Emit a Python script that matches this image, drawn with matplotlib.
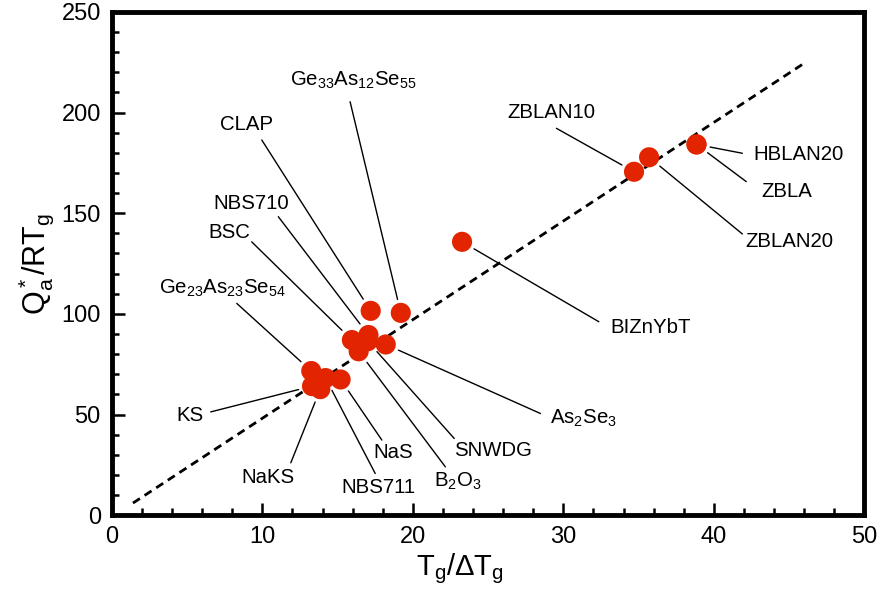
import matplotlib
matplotlib.use("Agg")
import matplotlib.pyplot as plt
from matplotlib.ticker import MultipleLocator

plt.rcParams['font.family'] = ['Liberation Sans', 'DejaVu Sans']
plt.rcParams['mathtext.fontset'] = 'custom'
plt.rcParams['mathtext.rm'] = 'Liberation Sans'
plt.rcParams['mathtext.it'] = 'Liberation Sans:italic'

# glasses: name, Tg/dTg, Qa*/RTg
names = ['Ge$_{33}$As$_{12}$Se$_{55}$', 'CLAP', 'NBS710', 'BSC',
         'Ge$_{23}$As$_{23}$Se$_{54}$', 'KS', 'NaKS', 'NBS711', 'NaS',
         'B$_2$O$_3$', 'SNWDG', 'As$_2$Se$_3$', 'BIZnYbT',
         'ZBLAN10', 'ZBLAN20', 'HBLAN20', 'ZBLA']
tg_ratio = [19.2, 17.2, 17.05, 15.95, 13.25, 13.3, 13.85, 14.2, 15.2,
            16.4, 17.0, 18.2, 23.27, 34.7, 35.7, 38.85, 38.85]
q_ratio = [100.5, 101.5, 89.5, 87.0, 71.6, 64.1, 62.6, 68.1, 67.4,
           81.4, 86.4, 84.8, 135.8, 170.6, 177.8, 184.2, 184.2]

# fitted line end points
fit_x = [1.4, 46.0]
fit_y = [6.0, 224.5]

# label text position and leader start, data units
text_pos = [(16.03, 216.2), (8.92, 194.3), (9.25, 154.6), (7.78, 140.2),
            (7.32, 112.8), (5.19, 49.7), (10.38, 18.9), (17.70, 13.9),
            (18.70, 31.3), (23.02, 16.9), (25.35, 32.3), (31.34, 48.2),
            (35.8, 93.4), (29.21, 200.3), (45.04, 136.2), (45.64, 179.4),
            (44.84, 161.0)]
lead_pos = [(15.83, 205.4), (9.96, 186.4), (11.06, 148.3), (9.29, 135.8),
            (8.30, 105.2), (6.57, 51.3), (11.89, 26.0), (17.50, 20.7),
            (17.94, 37.3), (22.16, 24.0), (22.75, 38.1), (28.48, 50.5),
            (32.36, 96.1), (29.54, 192.2), (41.9, 139.7), (41.9, 179.8),
            (42.16, 165.7)]

fig = plt.figure(figsize=(8.81, 5.99), dpi=100)
ax = fig.add_axes([0.127, 0.140, 0.854, 0.840])

line, = ax.plot(fit_x, fit_y, color='black', lw=2, zorder=2)
line.set_dashes((3, 2))

ax.scatter(tg_ratio, q_ratio, s=210, color='#e32400', edgecolors='none', zorder=3)

for name, x, y, (tx, ty), (lx, ly) in zip(names, tg_ratio, q_ratio, text_pos, lead_pos):
    ax.text(tx, ty, name, fontsize=14.7, ha='center', va='center')
    ax.annotate('', xy=(x, y), xytext=(lx, ly),
                arrowprops=dict(arrowstyle='-', color='black', lw=1,
                                shrinkA=0, shrinkB=10))

ax.set_xlim(0, 50)
ax.set_ylim(0, 250)
ax.xaxis.set_major_locator(MultipleLocator(10))
ax.xaxis.set_minor_locator(MultipleLocator(2))
ax.yaxis.set_major_locator(MultipleLocator(50))
ax.yaxis.set_minor_locator(MultipleLocator(10))
ax.tick_params(which='both', direction='in', width=1.8, labelsize=17, pad=8)
ax.tick_params(which='major', length=9)
ax.tick_params(which='minor', length=5)
for sp in ax.spines.values():
    sp.set_linewidth(3.5)

ax.set_xlabel('T$_\\mathrm{g}$/\u0394T$_\\mathrm{g}$', fontsize=21, labelpad=2)
ax.xaxis.label.set_x(0.463)
ax.set_ylabel('Q$_\\mathrm{a}^*$/RT$_\\mathrm{g}$', fontsize=22, labelpad=4)

fig.savefig('out.png', dpi=100)
